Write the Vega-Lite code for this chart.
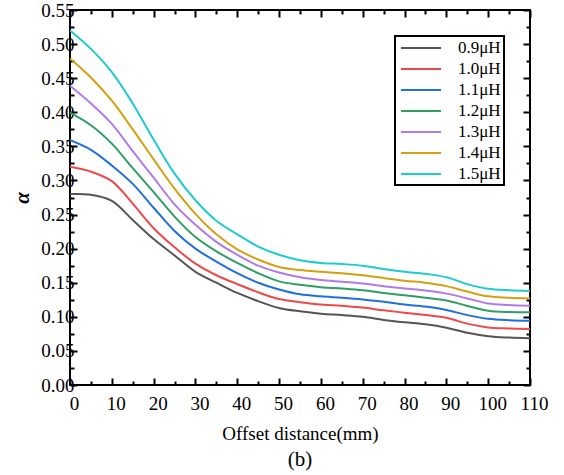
{
  "$schema": "https://vega.github.io/schema/vega-lite/v6.json",
  "autosize": "none",
  "width": 460,
  "height": 375,
  "padding": {"left": 70, "top": 10, "right": 34, "bottom": 90},
  "background": "white",
  "config": {
    "view": {"stroke": "black", "strokeWidth": 2},
    "font": "Liberation Serif",
    "axis": {"grid": false, "domain": false, "labelFont": "Liberation Serif", "titleFont": "Liberation Serif", "labelColor": "black", "titleColor": "black", "tickColor": "black", "tickWidth": 2, "labelFontSize": 19, "titleFontSize": 19, "titleFontWeight": "normal"},
    "legend": {"strokeWidth": 2}
  },
  "title": {"text": "(b)", "orient": "bottom", "font": "Liberation Serif", "fontSize": 21, "fontWeight": "normal", "color": "black", "offset": 6, "frame": "group", "anchor": "middle"},
  "data": {"values": [
    {"x":0,"s":"0.9μH","a":0.280},{"x":5,"s":"0.9μH","a":0.279},{"x":10,"s":"0.9μH","a":0.270},{"x":15,"s":"0.9μH","a":0.242},{"x":20,"s":"0.9μH","a":0.214},{"x":25,"s":"0.9μH","a":0.190},{"x":30,"s":"0.9μH","a":0.166},{"x":35,"s":"0.9μH","a":0.150},{"x":40,"s":"0.9μH","a":0.135},{"x":45,"s":"0.9μH","a":0.123},{"x":50,"s":"0.9μH","a":0.113},{"x":55,"s":"0.9μH","a":0.108},{"x":60,"s":"0.9μH","a":0.1045},{"x":65,"s":"0.9μH","a":0.1025},{"x":70,"s":"0.9μH","a":0.100},{"x":75,"s":"0.9μH","a":0.0955},{"x":80,"s":"0.9μH","a":0.092},{"x":85,"s":"0.9μH","a":0.089},{"x":90,"s":"0.9μH","a":0.084},{"x":95,"s":"0.9μH","a":0.0765},{"x":100,"s":"0.9μH","a":0.0715},{"x":105,"s":"0.9μH","a":0.0695},{"x":110,"s":"0.9μH","a":0.0685},
    {"x":0,"s":"1.0μH","a":0.320},{"x":5,"s":"1.0μH","a":0.313},{"x":10,"s":"1.0μH","a":0.299},{"x":15,"s":"1.0μH","a":0.266},{"x":20,"s":"1.0μH","a":0.230},{"x":25,"s":"1.0μH","a":0.202},{"x":30,"s":"1.0μH","a":0.178},{"x":35,"s":"1.0μH","a":0.161},{"x":40,"s":"1.0μH","a":0.148},{"x":45,"s":"1.0μH","a":0.136},{"x":50,"s":"1.0μH","a":0.126},{"x":55,"s":"1.0μH","a":0.1215},{"x":60,"s":"1.0μH","a":0.118},{"x":65,"s":"1.0μH","a":0.1163},{"x":70,"s":"1.0μH","a":0.1135},{"x":75,"s":"1.0μH","a":0.1095},{"x":80,"s":"1.0μH","a":0.106},{"x":85,"s":"1.0μH","a":0.1025},{"x":90,"s":"1.0μH","a":0.0985},{"x":95,"s":"1.0μH","a":0.090},{"x":100,"s":"1.0μH","a":0.0845},{"x":105,"s":"1.0μH","a":0.083},{"x":110,"s":"1.0μH","a":0.082},
    {"x":0,"s":"1.1μH","a":0.359},{"x":5,"s":"1.1μH","a":0.345},{"x":10,"s":"1.1μH","a":0.322},{"x":15,"s":"1.1μH","a":0.295},{"x":20,"s":"1.1μH","a":0.260},{"x":25,"s":"1.1μH","a":0.226},{"x":30,"s":"1.1μH","a":0.200},{"x":35,"s":"1.1μH","a":0.181},{"x":40,"s":"1.1μH","a":0.164},{"x":45,"s":"1.1μH","a":0.150},{"x":50,"s":"1.1μH","a":0.140},{"x":55,"s":"1.1μH","a":0.133},{"x":60,"s":"1.1μH","a":0.130},{"x":65,"s":"1.1μH","a":0.128},{"x":70,"s":"1.1μH","a":0.1255},{"x":75,"s":"1.1μH","a":0.122},{"x":80,"s":"1.1μH","a":0.118},{"x":85,"s":"1.1μH","a":0.115},{"x":90,"s":"1.1μH","a":0.110},{"x":95,"s":"1.1μH","a":0.1025},{"x":100,"s":"1.1μH","a":0.097},{"x":105,"s":"1.1μH","a":0.095},{"x":110,"s":"1.1μH","a":0.0943},
    {"x":0,"s":"1.2μH","a":0.3995},{"x":5,"s":"1.2μH","a":0.381},{"x":10,"s":"1.2μH","a":0.354},{"x":15,"s":"1.2μH","a":0.318},{"x":20,"s":"1.2μH","a":0.283},{"x":25,"s":"1.2μH","a":0.247},{"x":30,"s":"1.2μH","a":0.217},{"x":35,"s":"1.2μH","a":0.196},{"x":40,"s":"1.2μH","a":0.179},{"x":45,"s":"1.2μH","a":0.164},{"x":50,"s":"1.2μH","a":0.152},{"x":55,"s":"1.2μH","a":0.147},{"x":60,"s":"1.2μH","a":0.1435},{"x":65,"s":"1.2μH","a":0.1415},{"x":70,"s":"1.2μH","a":0.139},{"x":75,"s":"1.2μH","a":0.135},{"x":80,"s":"1.2μH","a":0.1315},{"x":85,"s":"1.2μH","a":0.128},{"x":90,"s":"1.2μH","a":0.124},{"x":95,"s":"1.2μH","a":0.116},{"x":100,"s":"1.2μH","a":0.109},{"x":105,"s":"1.2μH","a":0.107},{"x":110,"s":"1.2μH","a":0.1066},
    {"x":0,"s":"1.3μH","a":0.439},{"x":5,"s":"1.3μH","a":0.413},{"x":10,"s":"1.3μH","a":0.383},{"x":15,"s":"1.3μH","a":0.343},{"x":20,"s":"1.3μH","a":0.304},{"x":25,"s":"1.3μH","a":0.265},{"x":30,"s":"1.3μH","a":0.235},{"x":35,"s":"1.3μH","a":0.210},{"x":40,"s":"1.3μH","a":0.191},{"x":45,"s":"1.3μH","a":0.175},{"x":50,"s":"1.3μH","a":0.165},{"x":55,"s":"1.3μH","a":0.158},{"x":60,"s":"1.3μH","a":0.154},{"x":65,"s":"1.3μH","a":0.1515},{"x":70,"s":"1.3μH","a":0.149},{"x":75,"s":"1.3μH","a":0.145},{"x":80,"s":"1.3μH","a":0.1415},{"x":85,"s":"1.3μH","a":0.1385},{"x":90,"s":"1.3μH","a":0.134},{"x":95,"s":"1.3μH","a":0.127},{"x":100,"s":"1.3μH","a":0.1195},{"x":105,"s":"1.3μH","a":0.1175},{"x":110,"s":"1.3μH","a":0.1163},
    {"x":0,"s":"1.4μH","a":0.479},{"x":5,"s":"1.4μH","a":0.451},{"x":10,"s":"1.4μH","a":0.417},{"x":15,"s":"1.4μH","a":0.375},{"x":20,"s":"1.4μH","a":0.331},{"x":25,"s":"1.4μH","a":0.288},{"x":30,"s":"1.4μH","a":0.251},{"x":35,"s":"1.4μH","a":0.221},{"x":40,"s":"1.4μH","a":0.199},{"x":45,"s":"1.4μH","a":0.184},{"x":50,"s":"1.4μH","a":0.173},{"x":55,"s":"1.4μH","a":0.1685},{"x":60,"s":"1.4μH","a":0.166},{"x":65,"s":"1.4μH","a":0.164},{"x":70,"s":"1.4μH","a":0.161},{"x":75,"s":"1.4μH","a":0.157},{"x":80,"s":"1.4μH","a":0.153},{"x":85,"s":"1.4μH","a":0.150},{"x":90,"s":"1.4μH","a":0.145},{"x":95,"s":"1.4μH","a":0.137},{"x":100,"s":"1.4μH","a":0.130},{"x":105,"s":"1.4μH","a":0.128},{"x":110,"s":"1.4μH","a":0.127},
    {"x":0,"s":"1.5μH","a":0.520},{"x":5,"s":"1.5μH","a":0.493},{"x":10,"s":"1.5μH","a":0.459},{"x":15,"s":"1.5μH","a":0.413},{"x":20,"s":"1.5μH","a":0.360},{"x":25,"s":"1.5μH","a":0.310},{"x":30,"s":"1.5μH","a":0.271},{"x":35,"s":"1.5μH","a":0.241},{"x":40,"s":"1.5μH","a":0.221},{"x":45,"s":"1.5μH","a":0.203},{"x":50,"s":"1.5μH","a":0.191},{"x":55,"s":"1.5μH","a":0.183},{"x":60,"s":"1.5μH","a":0.179},{"x":65,"s":"1.5μH","a":0.1775},{"x":70,"s":"1.5μH","a":0.175},{"x":75,"s":"1.5μH","a":0.170},{"x":80,"s":"1.5μH","a":0.166},{"x":85,"s":"1.5μH","a":0.163},{"x":90,"s":"1.5μH","a":0.158},{"x":95,"s":"1.5μH","a":0.148},{"x":100,"s":"1.5μH","a":0.141},{"x":105,"s":"1.5μH","a":0.139},{"x":110,"s":"1.5μH","a":0.138}
  ]},
  "resolve": {"axis": {"x": "independent", "y": "independent"}},
  "layer": [
    {
      "mark": {"type": "line", "interpolate": "catmull-rom", "strokeWidth": 2, "clip": true},
      "encoding": {
        "x": {"field": "x", "type": "quantitative", "scale": {"domain": [0, 110], "nice": false, "zero": false},
          "axis": {"orient": "bottom", "title": "Offset distance(mm)", "titlePadding": 8, "values": [0,5,10,15,20,25,30,35,40,45,50,55,60,65,70,75,80,85,90,95,100,105,110],
            "labelExpr": "datum.value % 10 === 0 ? datum.label : ''", "labelPadding": 16, "labelOffset": 4, "labelFlush": false, "labelOverlap": false,
            "tickSize": {"condition": {"test": "datum.value % 10 === 0", "value": -7}, "value": -4}}},
        "y": {"field": "a", "type": "quantitative", "scale": {"domain": [0, 0.55], "nice": false},
          "axis": {"orient": "left", "title": "α", "titleFontStyle": "italic", "titleFontWeight": "bold", "titleFontSize": 21, "titlePadding": 8,
            "values": [0,0.025,0.05,0.075,0.1,0.125,0.15,0.175,0.2,0.225,0.25,0.275,0.3,0.325,0.35,0.375,0.4,0.425,0.45,0.475,0.5,0.525,0.55],
            "format": ".2f", "labelExpr": "abs(datum.value*20 - round(datum.value*20)) < 0.001 ? datum.label : ''", "labelPadding": 3, "labelFlush": false, "labelOverlap": false,
            "tickSize": {"condition": {"test": "abs(datum.value*20 - round(datum.value*20)) < 0.001", "value": -7}, "value": -4}}},
        "color": {"field": "s", "type": "nominal",
          "scale": {"domain": ["0.9μH","1.0μH","1.1μH","1.2μH","1.3μH","1.4μH","1.5μH"], "range": ["#555555","#f04848","#1f6fe0","#2e9e64","#b07be8","#d4a010","#1ecbcf"]},
          "legend": {"title": null, "orient": "none", "legendX": 325, "legendY": 26, "strokeColor": "black", "fillColor": "white", "padding": 3,
            "symbolType": "M-2.5,0H2.5", "symbolSize": 256, "symbolOffset": 14, "symbolStrokeWidth": 2, "symbolFillColor": "transparent",
            "labelFont": "Liberation Serif", "labelFontSize": 17, "labelColor": "black", "labelOffset": 28, "rowPadding": 4}}
      }
    },
    {
      "mark": {"type": "point", "opacity": 0},
      "encoding": {
        "x": {"field": "x", "type": "quantitative", "scale": {"domain": [0, 110], "nice": false, "zero": false},
          "axis": {"orient": "top", "title": null, "labels": false, "values": [0,5,10,15,20,25,30,35,40,45,50,55,60,65,70,75,80,85,90,95,100,105,110],
            "tickSize": {"condition": {"test": "datum.value % 10 === 0", "value": -7}, "value": -4}}},
        "y": {"field": "a", "type": "quantitative", "scale": {"domain": [0, 0.55], "nice": false},
          "axis": {"orient": "right", "title": null, "labels": false,
            "values": [0,0.025,0.05,0.075,0.1,0.125,0.15,0.175,0.2,0.225,0.25,0.275,0.3,0.325,0.35,0.375,0.4,0.425,0.45,0.475,0.5,0.525,0.55],
            "tickSize": {"condition": {"test": "abs(datum.value*20 - round(datum.value*20)) < 0.001", "value": -7}, "value": -4}}}
      }
    }
  ]
}
